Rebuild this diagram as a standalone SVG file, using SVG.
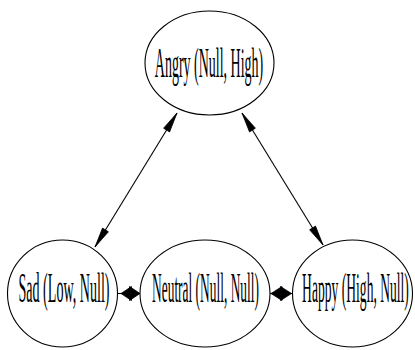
<svg xmlns="http://www.w3.org/2000/svg" width="415" height="350" viewBox="0 0 415 350">
  <style>
    .node ellipse { fill: #fff; stroke: #000; stroke-width: 1.1; }
    .node text { font-family: "Liberation Serif", "Times New Roman", serif; font-size: 43px; fill: #000; text-anchor: middle; }
    .edge line { stroke: #000; stroke-width: 1.1; }
    .edge polygon { fill: #000; stroke: #000; stroke-width: 0.8; stroke-linejoin: miter; }
  </style>
  <rect width="415" height="350" fill="#fff"/>

  <!-- connectors: all edges are bidirectional -->
  <g id="edges">
    <g class="edge" id="angry-sad">
      <line x1="177" y1="113" x2="95" y2="247"/>
      <polygon points="177,113 169.6,131.9 163.6,128.2"/>
      <polygon points="95,247 108.4,231.8 102.5,228.1"/>
    </g>
    <g class="edge" id="angry-happy">
      <line x1="242" y1="113" x2="323" y2="245"/>
      <polygon points="242,113 255.4,128.2 249.5,131.9"/>
      <polygon points="323,245 315.5,226.1 309.6,229.8"/>
    </g>
    <g class="edge" id="sad-neutral">
      <line x1="117.5" y1="293.5" x2="140" y2="293.5"/>
      <polygon points="121,293.5 131.5,286.5 131.5,300.5"/>
      <polygon points="140,293.5 129.5,286.5 129.5,300.5"/>
    </g>
    <g class="edge" id="neutral-happy">
      <line x1="270" y1="293.5" x2="292.5" y2="293.5"/>
      <polygon points="271,293.5 282,286.5 282,300.5"/>
      <polygon points="291.5,293.5 280.5,286.5 280.5,300.5"/>
    </g>
  </g>

  <!-- labels use a horizontally condensed serif -->
  <g class="node" id="angry">
    <ellipse cx="209.5" cy="63" rx="64.5" ry="52"/>
    <text transform="translate(209 77) scale(0.325 1)">Angry (Null, High)</text>
  </g>
  <g class="node" id="sad">
    <ellipse cx="62.5" cy="293.5" rx="55" ry="53.5"/>
    <text transform="translate(64 302) scale(0.328 1)">Sad (Low, Null)</text>
  </g>
  <g class="node" id="neutral">
    <ellipse cx="205" cy="293.5" rx="65" ry="53.5"/>
    <text transform="translate(205.5 302) scale(0.312 1)">Neutral (Null, Null)</text>
  </g>
  <g class="node" id="happy">
    <ellipse cx="352.5" cy="293.5" rx="60" ry="53.5"/>
    <text transform="translate(355.5 302) scale(0.316 1)">Happy (High, Null)</text>
  </g>
</svg>
